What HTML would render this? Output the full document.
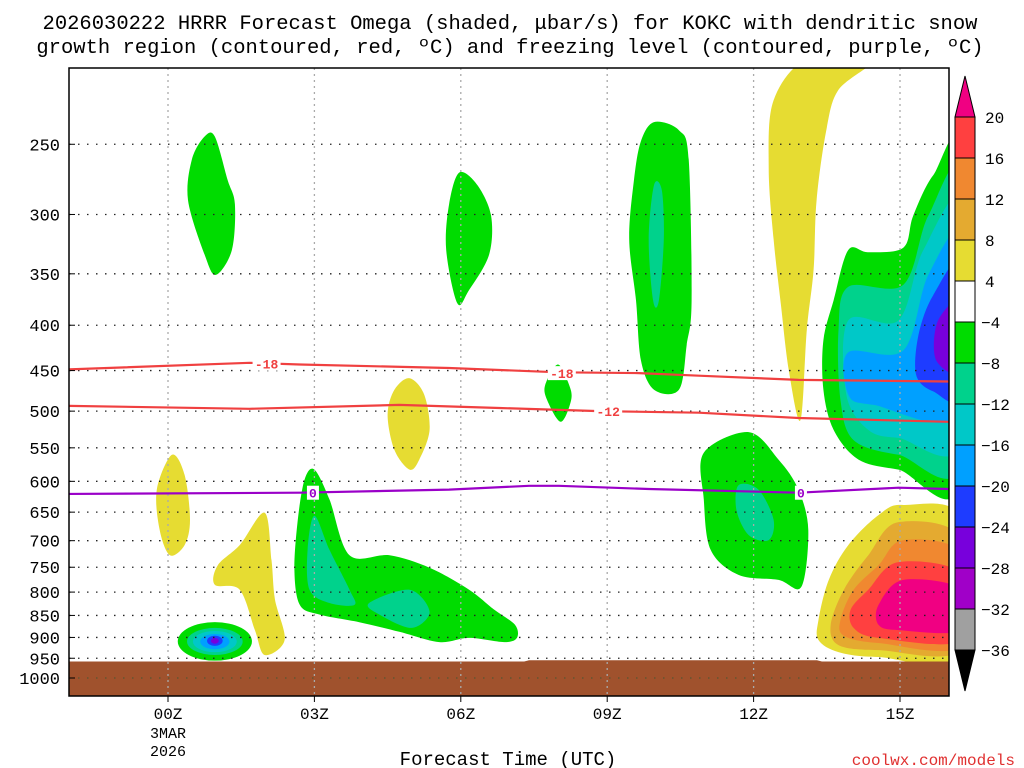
<!DOCTYPE html>
<html><head><meta charset="utf-8">
<style>
html,body{margin:0;padding:0;background:#fff;}
svg{display:block;}
text{font-family:"Liberation Mono","DejaVu Sans Mono",monospace;}
</style></head>
<body>
<svg id="chart" width="1024" height="768" viewBox="0 0 1024 768" xmlns="http://www.w3.org/2000/svg">
  <text x="510" y="29" font-size="20.5" text-anchor="middle" fill="#000">2026030222 HRRR Forecast Omega (shaded, μbar/s) for KOKC with dendritic snow</text>
  <text x="510" y="53" font-size="20.5" text-anchor="middle" fill="#000">growth region (contoured, red, ºC) and freezing level (contoured, purple, ºC)</text>
  <g id="shading"></g>
  <g id="ground"></g>
  <g id="grid"></g>
  <g id="contours"></g>
  <rect x="69" y="68" width="880" height="628" fill="none" stroke="#000" stroke-width="1.5"/>
  <g id="yaxis"></g>
  <g id="xaxis"></g>
  <text x="508" y="765" font-size="19" text-anchor="middle" fill="#000">Forecast Time (UTC)</text>
  <text x="1015" y="765" font-size="16" text-anchor="end" fill="#e03030">coolwx.com/models</text>
  <g id="colorbar"></g>
</svg>
<script>
// ---- data ----
const pressureTicks = [250,300,350,400,450,500,550,600,650,700,750,800,850,900,950,1000];
const hourTicks = [0,3,6,9,12,15];
const hourTickLabels = ["00Z","03Z","06Z","09Z","12Z","15Z"];
const colorbarLevels = [20,16,12,8,4,-4,-8,-12,-16,-20,-24,-28,-32,-36];
const colorbarColors = ["#FF4040","#F08830","#E4AA30","#E6DC32","#FFFFFF","#00DC00","#00D28C","#00C8C8","#00A0FF","#1E3CFF","#7800DC","#A000C8","#A0A0A0"];

// shaded omega regions: [hour, pressure] pairs
const g1 = [[0.75,245],[0.96,245],[1.22,274],[1.37,292],[1.31,329],[0.98,351],[0.75,333],[0.41,289],[0.49,260]];
const g2 = [[5.97,269],[6.34,278],[6.62,301],[6.58,333],[6.17,365],[5.93,378],[5.7,329],[5.76,292]];
const g3 = [[9.96,236],[10.47,241],[10.67,260],[10.73,375],[10.63,421],[10.47,473],[9.96,473],[9.69,438],[9.59,375],[9.45,320],[9.55,274],[9.69,248]];
const t3 = [[9.96,278],[10.12,282],[10.16,320],[10.06,375],[9.94,375],[9.85,320]];
const g4 = [[7.99,443],[8.22,467],[8.26,486],[8.05,514],[7.77,486],[7.73,467]];
const g5 = [[3.0,582],[3.31,629],[3.72,727],[4.54,727],[5.36,751],[6.17,795],[6.68,837],[7.11,871],[7.15,901],[6.89,911],[6.17,901],[5.56,911],[4.74,887],[3.92,865],[3.1,848],[2.7,827],[2.59,755],[2.66,663],[2.8,597]];
const t5a = [[3.0,656],[3.31,717],[3.72,795],[3.82,827],[3.31,823],[2.9,795],[2.86,717]];
const t5b = [[4.12,823],[4.95,795],[5.36,842],[4.99,878],[4.33,848]];
const g6 = [[10.98,557],[11.9,528],[12.51,567],[12.92,613],[13.12,681],[12.98,789],[12.51,775],[11.69,765],[11.12,717],[10.98,629]];
const t6 = [[11.69,606],[12.1,613],[12.41,663],[12.31,699],[11.9,690],[11.65,647]];
const g7 = [[16.3,254],[15.68,271],[15.27,301],[15.07,327],[14.35,331],[13.94,329],[13.64,375],[13.43,416],[13.43,473],[13.64,525],[14.15,567],[14.97,582],[16.3,595]];
const tg7 = [[16.3,271],[15.58,301],[15.07,360],[13.94,362],[13.74,405],[13.78,486],[14.05,539],[14.97,560],[16.3,567]];
const tc7 = [[16.3,292],[15.48,329],[14.97,395],[13.94,395],[13.9,479],[14.35,525],[14.97,536],[16.3,539]];
const lb7 = [[16.3,316],[15.58,351],[15.07,427],[13.94,429],[13.94,479],[14.46,492],[16.3,501]];
const db7 = [[16.3,339],[15.68,370],[15.38,410],[15.33,455],[15.68,475],[16.3,479]];
const pu7 = [[16.3,375],[15.78,395],[15.74,438],[16.3,452]];
const w1 = [[13.33,860],[13.54,775],[13.94,708],[14.56,655],[15.07,638],[16.3,663],[16.3,942],[14.56,947],[13.74,935],[13.33,906]];
const w2 = [[13.58,871],[13.85,795],[14.35,727],[14.97,667],[16.3,699],[16.3,925],[14.56,930],[13.74,918]];
const w3 = [[13.78,860],[14.05,795],[14.56,746],[15.07,699],[16.3,727],[16.3,918],[14.56,913],[13.85,896]];
const w4 = [[13.99,837],[14.35,795],[14.97,740],[16.3,765],[16.3,906],[14.56,901],[14.05,878]];
const w5 = [[14.56,827],[15.07,775],[16.3,795],[16.3,883],[14.97,883],[14.56,871]];
const y1 = [[0.08,560],[0.34,590],[0.45,663],[0.34,708],[0.04,727],[-0.17,681],[-0.23,613]];
const y2 = [[1.98,651],[2.12,736],[2.19,815],[2.39,906],[1.98,942],[1.78,883],[1.47,795],[0.96,785],[1.02,746],[1.47,708]];
const y3 = [[4.95,459],[5.25,479],[5.36,525],[5.15,567],[4.95,582],[4.64,553],[4.5,505],[4.64,473]];
const y4 = [[13.12,200],[14.46,200],[13.74,217],[13.49,241],[13.29,289],[13.23,346],[13.09,405],[12.96,512],[12.72,449],[12.55,375],[12.41,320],[12.31,266],[12.41,223]];
// bullseye: [centerHour, centerP, halfWidthHours, topP, bottomP]
const bullseye = [[0.96,906,0.76,865,956],[0.96,906,0.57,878,942],[0.96,906,0.45,885,935],[0.96,906,0.30,892,928],[0.96,906,0.16,896,920],[0.96,906,0.08,901,915]];
const bullseyeColors = ["#00DC00","#00D28C","#00C8C8","#00A0FF","#1E3CFF","#7800DC"];

// contour lines [hour, pressure]
const dgzTop = [[-2.2,449],[1.67,441],[2.7,443],[5.76,447],[8.01,452],[9.65,453],[10.88,456],[12.92,461],[16.0,463]];
const dgzBottom = [[-2.2,493],[1.67,497],[4.74,492],[6.79,496],[8.83,500],[10.88,502],[12.92,509],[16.0,514]];
const freezing = [[-2.2,620],[2.7,618],[5.76,613],[7.4,607],[8.01,607],[9.85,612],[12.92,618],[14.97,610],[16.0,612]];
const groundP = [[-2.2,958],[7.3,958],[7.4,955],[13.3,955],[13.4,958],[16.3,958]];

// ---- axes ----
const X0 = 168, XPH = 48.8;
const Y1000 = 678, YK = 385;
function xs(h){ return X0 + XPH*h; }
function ys(p){ return Y1000 - YK*Math.log(1000/p); }
const NS = "http://www.w3.org/2000/svg";
function mk(tag, parent){ const e=document.createElementNS(NS,tag); parent.appendChild(e); return e; }

function smoothPath(pts){
  const P = pts.map(d=>[xs(d[0]), ys(d[1])]);
  const n = P.length; let s = "M"+P[0][0].toFixed(1)+","+P[0][1].toFixed(1);
  for(let i=0;i<n;i++){
    const p0=P[(i-1+n)%n], p1=P[i], p2=P[(i+1)%n], p3=P[(i+2)%n];
    const t=0.16;
    const c1=[p1[0]+(p2[0]-p0[0])*t, p1[1]+(p2[1]-p0[1])*t];
    const c2=[p2[0]-(p3[0]-p1[0])*t, p2[1]-(p3[1]-p1[1])*t];
    s+="C"+c1[0].toFixed(1)+","+c1[1].toFixed(1)+" "+c2[0].toFixed(1)+","+c2[1].toFixed(1)+" "+p2[0].toFixed(1)+","+p2[1].toFixed(1);
  }
  return s+"Z";
}
function linePath(pts){ return pts.map((d,i)=>(i?"L":"M")+xs(d[0]).toFixed(1)+","+ys(d[1]).toFixed(1)).join(""); }

const svg = document.getElementById('chart');
const clip = mk('clipPath', mk('defs', svg)); clip.setAttribute('id','plotclip');
const cr = mk('rect', clip); cr.setAttribute('x',69); cr.setAttribute('y',68); cr.setAttribute('width',880); cr.setAttribute('height',628);

const shading = document.getElementById('shading');
shading.setAttribute('clip-path','url(#plotclip)');
const regions = [
  [y4,"#E6DC32","updraft-yellow-upper"],[y1,"#E6DC32","updraft-yellow-a"],[y2,"#E6DC32","updraft-yellow-b"],[y3,"#E6DC32","updraft-yellow-c"],
  [w1,"#E6DC32","rising-4"],[w2,"#E4AA30","rising-8"],[w3,"#F08830","rising-12"],[w4,"#FF4040","rising-16"],[w5,"#F00082","rising-20"],
  [g1,"#00DC00","sinking-a"],[g2,"#00DC00","sinking-b"],[g3,"#00DC00","sinking-c"],[t3,"#00D28C","sinking-c-core"],[g4,"#00DC00","sinking-d"],
  [g5,"#00DC00","sinking-e"],[t5a,"#00D28C","sinking-e-core1"],[t5b,"#00D28C","sinking-e-core2"],
  [g6,"#00DC00","sinking-f"],[t6,"#00D28C","sinking-f-core"],
  [g7,"#00DC00","sinking-g"],[tg7,"#00D28C","sinking-g-8"],[tc7,"#00C8C8","sinking-g-12"],[lb7,"#00A0FF","sinking-g-16"],[db7,"#1E3CFF","sinking-g-20"],[pu7,"#7800DC","sinking-g-24"]
];
regions.forEach(r=>{
  const p = mk('path', shading);
  p.setAttribute('d', smoothPath(r[0]));
  p.setAttribute('fill', r[1]);
  
  
});
bullseye.forEach((b,i)=>{
  const e = mk('ellipse', shading);
  const cy = (ys(b[3])+ys(b[4]))/2;
  e.setAttribute('cx', xs(b[0])); e.setAttribute('cy', cy);
  e.setAttribute('rx', XPH*b[2]); e.setAttribute('ry', (ys(b[4])-ys(b[3]))/2);
  e.setAttribute('fill', bullseyeColors[i]);
  
  
});

// ground
const ground = document.getElementById('ground');
const gp = mk('path', ground);
gp.setAttribute('d', linePath(groundP)+"L"+xs(16.3)+",696L"+xs(-2.2)+",696Z");
gp.setAttribute('fill','#A0522D');
gp.setAttribute('clip-path','url(#plotclip)');



// grid
const grid = document.getElementById('grid');
pressureTicks.forEach(p=>{
  const l = mk('line', grid);
  l.setAttribute('x1',69); l.setAttribute('x2',949); l.setAttribute('y1',ys(p)); l.setAttribute('y2',ys(p));
  l.setAttribute('stroke', p>=1000?'#553':'#222'); l.setAttribute('stroke-width',1.3); l.setAttribute('stroke-dasharray','1.5,7.5');
  
  
});
hourTicks.forEach(h=>{
  const l = mk('line', grid);
  l.setAttribute('x1',xs(h)); l.setAttribute('x2',xs(h)); l.setAttribute('y1',68); l.setAttribute('y2',696);
  l.setAttribute('stroke','#aaa'); l.setAttribute('stroke-width',1.3); l.setAttribute('stroke-dasharray','2,4');
  
  
});

// contours
const cont = document.getElementById('contours');
function drawLine(pts,color,name){
  const p = mk('path', cont);
  p.setAttribute('d', linePath(pts)); p.setAttribute('fill','none');
  p.setAttribute('stroke',color); p.setAttribute('stroke-width',2.2);
  p.setAttribute('clip-path','url(#plotclip)');
  
  
}
drawLine(dgzTop,'#F04040','dgz-minus18-contour');
drawLine(dgzBottom,'#F04040','dgz-minus12-contour');
drawLine(freezing,'#9A00C8','freezing-level-contour');
const contourLabels = [[2.02,442,"-18","#F04040"],[8.07,453,"-18","#F04040"],[9.02,500,"-12","#F04040"],[2.97,618,"0","#9A00C8"],[12.97,618,"0","#9A00C8"]];
contourLabels.forEach(c=>{
  const r = mk('rect', cont);
  const w = c[2].length*8+4;
  r.setAttribute('x', xs(c[0])-w/2); r.setAttribute('y', ys(c[1])-7); r.setAttribute('width', w); r.setAttribute('height', 14); r.setAttribute('fill','#fff');
  
  
  const t = mk('text', cont);
  t.setAttribute('x', xs(c[0])); t.setAttribute('y', ys(c[1])+5); t.setAttribute('font-size',13); t.setAttribute('font-weight','bold');
  t.setAttribute('text-anchor','middle'); t.setAttribute('fill', c[3]); t.textContent = c[2];
  
  
});

// y axis
const yax = document.getElementById('yaxis');
pressureTicks.forEach(p=>{
  const t = mk('text', yax);
  t.setAttribute('x', 60); t.setAttribute('y', ys(p)+6); t.setAttribute('font-size',17); t.setAttribute('text-anchor','end');
  t.textContent = p;
  
  
  const tk = mk('line', yax);
  tk.setAttribute('x1',69); tk.setAttribute('x2',75); tk.setAttribute('y1',ys(p)); tk.setAttribute('y2',ys(p)); tk.setAttribute('stroke','#000');
  
  
});
// x axis
const xax = document.getElementById('xaxis');
hourTicks.forEach((h,i)=>{
  const t = mk('text', xax);
  t.setAttribute('x', xs(h)); t.setAttribute('y', 719); t.setAttribute('font-size',16); t.setAttribute('text-anchor','middle');
  t.textContent = hourTickLabels[i];
  
  
  const tk = mk('line', xax);
  tk.setAttribute('x1',xs(h)); tk.setAttribute('x2',xs(h)); tk.setAttribute('y1',696); tk.setAttribute('y2',702); tk.setAttribute('stroke','#000');
  
  
});
[["3MAR",738],["2026",756]].forEach(d=>{
  const t = mk('text', xax);
  t.setAttribute('x', xs(0)); t.setAttribute('y', d[1]); t.setAttribute('font-size',15); t.setAttribute('text-anchor','middle');
  t.textContent = d[0];
  
  
});

// colorbar
const cb = document.getElementById('colorbar');
const CB_X = 955, CB_W = 20, CB_TOP = 117, CB_STEP = (650-117)/13;
colorbarColors.forEach((c,i)=>{
  const r = mk('rect', cb);
  r.setAttribute('x',CB_X); r.setAttribute('y',CB_TOP+i*CB_STEP); r.setAttribute('width',CB_W); r.setAttribute('height',CB_STEP);
  r.setAttribute('fill',c); r.setAttribute('stroke','#000'); r.setAttribute('stroke-width',1);
  
  
});
const tri1 = mk('polygon', cb);
tri1.setAttribute('points', `${CB_X},${CB_TOP} ${CB_X+CB_W},${CB_TOP} ${CB_X+CB_W/2},76`);
tri1.setAttribute('fill','#F00082'); tri1.setAttribute('stroke','#000');


const tri2 = mk('polygon', cb);
tri2.setAttribute('points', `${CB_X},650 ${CB_X+CB_W},650 ${CB_X+CB_W/2},691`);
tri2.setAttribute('fill','#000'); tri2.setAttribute('stroke','#000');


colorbarLevels.forEach((v,i)=>{
  const t = mk('text', cb);
  t.setAttribute('x', v<0?981:985); t.setAttribute('y', CB_TOP+i*CB_STEP+6); t.setAttribute('font-size',16);
  t.textContent = v<0 ? "\u2212"+Math.abs(v) : v;
  
  
});
</script>
</body></html>
